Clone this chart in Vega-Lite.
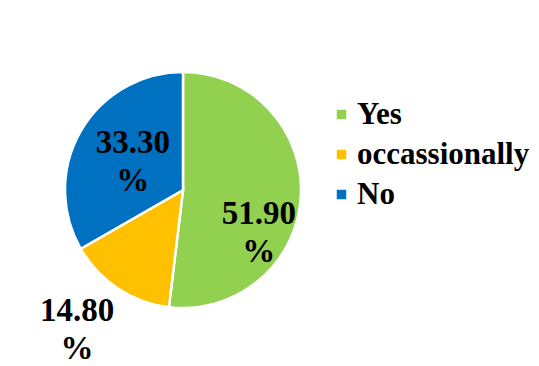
{
  "$schema": "https://vega.github.io/schema/vega-lite/v6.json",
  "autosize": "none",
  "width": 366,
  "height": 364,
  "padding": {"left": 0, "top": 8, "right": 173, "bottom": 0},
  "background": "white",
  "config": {
    "view": {"stroke": null},
    "legend": {"labelFont": "Liberation Serif", "labelFontWeight": "bold"}
  },
  "data": {
    "values": [
      {"answer": "Yes", "value": 51.9, "label": "51.90 %", "idx": 1},
      {"answer": "occassionally", "value": 14.8, "label": "14.80 %", "idx": 2},
      {"answer": "No", "value": 33.3, "label": "33.30 %", "idx": 3}
    ]
  },
  "transform": [
    {"stack": "value", "groupby": [], "sort": [{"field": "idx", "order": "ascending"}], "as": ["v0", "v1"]},
    {"calculate": "(datum.v0 + datum.v1) / 2", "as": "mid"}
  ],
  "layer": [
    {
      "mark": {"type": "arc", "outerRadius": 118, "stroke": "white", "strokeWidth": 2.5},
      "encoding": {
        "theta": {"field": "v0", "type": "quantitative", "scale": {"domain": [0, 100]}},
        "theta2": {"field": "v1"},
        "color": {
          "field": "answer",
          "type": "nominal",
          "scale": {"domain": ["Yes", "occassionally", "No"], "range": ["#92D050", "#FFC000", "#0070C0"]},
          "legend": {
            "title": null,
            "orient": "none",
            "legendX": 326,
            "legendY": 91,
            "symbolType": "square",
            "symbolSize": 90,
            "symbolStrokeWidth": 0,
            "labelFont": "Liberation Serif",
            "labelFontWeight": "bold",
            "labelFontSize": 31,
            "labelColor": "black",
            "labelOffset": 0,
            "labelLimit": 300,
            "rowPadding": 8
          }
        }
      }
    },
    {
      "transform": [{"filter": "datum.answer === 'Yes'"}],
      "mark": {"type": "text", "radius": 76, "dy": 19, "font": "Liberation Serif", "fontWeight": "bold", "fontSize": 33, "lineBreak": " ", "lineHeight": 38, "color": "black"},
      "encoding": {
        "theta": {"field": "mid", "type": "quantitative"},
        "text": {"field": "label"}
      }
    },
    {
      "transform": [{"filter": "datum.answer === 'No'"}],
      "mark": {"type": "text", "radius": 58, "dy": -18, "font": "Liberation Serif", "fontWeight": "bold", "fontSize": 33, "lineBreak": " ", "lineHeight": 38, "color": "black"},
      "encoding": {
        "theta": {"field": "mid", "type": "quantitative"},
        "text": {"field": "label"}
      }
    },
    {
      "transform": [{"filter": "datum.answer === 'occassionally'"}],
      "mark": {"type": "text", "radius": 145, "dx": -26, "font": "Liberation Serif", "fontWeight": "bold", "fontSize": 33, "lineBreak": " ", "lineHeight": 38, "color": "black"},
      "encoding": {
        "theta": {"field": "mid", "type": "quantitative"},
        "text": {"field": "label"}
      }
    }
  ]
}
